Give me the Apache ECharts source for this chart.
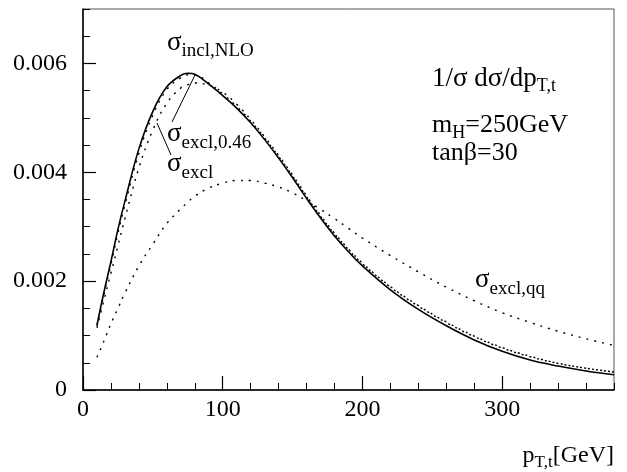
<!DOCTYPE html>
<html>
<head>
<meta charset="utf-8">
<script src="https://cdn.jsdelivr.net/npm/echarts@6/dist/echarts.min.js"></script>
<style>
html,body{margin:0;padding:0;background:#fff;}
#chart{width:627px;height:472px;}
</style>
</head>
<body>
<div id="chart"></div>
<script>
// pT,t values (GeV)
const pt = [10,15,20,25,30,40,50,60,70,75,80,90,100,110,120,130,140,150,160,170,180,190,200,220,240,260,280,300,320,340,360,380];
// sigma_incl,NLO (solid)
const sigInclNLO = [0.00119,0.00180,0.00236,0.00295,0.00347,0.00443,0.00512,0.00557,0.00578,0.00582,0.00580,0.00562,0.00541,0.00518,0.00491,0.00460,0.00426,0.00390,0.00352,0.00316,0.00283,0.00254,0.00228,0.00184,0.00148,0.00118,0.00092,0.00071,0.00055,0.00044,0.00035,0.00028];
// sigma_excl,0.46 (dotted, close to solid)
const sigExcl046 = [0.00118,0.00176,0.00231,0.00288,0.00340,0.00435,0.00505,0.00552,0.00574,0.00579,0.00579,0.00564,0.00544,0.00521,0.00494,0.00463,0.00429,0.00393,0.00355,0.00319,0.00287,0.00258,0.00232,0.00189,0.00154,0.00124,0.00098,0.00077,0.00061,0.00049,0.00040,0.00033];
// sigma_excl (dotted)
const sigExcl = [0.00114,0.00165,0.00215,0.00265,0.00315,0.00408,0.00478,0.00527,0.00555,0.00561,0.00564,0.00560,0.00547,0.00525,0.00497,0.00465,0.00431,0.00395,0.00357,0.00321,0.00288,0.00259,0.00233,0.00190,0.00155,0.00125,0.00099,0.00078,0.00062,0.00049,0.00040,0.00033];
// sigma_excl,qq (dotted, broad)
const sigExclQQ = [0.00060,0.00090,0.00122,0.00150,0.00178,0.00228,0.00268,0.00306,0.00333,0.00345,0.00356,0.00371,0.00380,0.00385,0.00385,0.00380,0.00373,0.00362,0.00348,0.00332,0.00315,0.00297,0.00279,0.00247,0.00217,0.00189,0.00164,0.00142,0.00124,0.00108,0.00094,0.00082];

const xTicks = [0,100,200,300];
const yTicks = [0,0.002,0.004,0.006];

const FONT = '"Liberation Serif", "Times New Roman", serif';
const chart = echarts.init(document.getElementById('chart'));

const ctx = document.createElement('canvas').getContext('2d');
function w(text, size){ ctx.font = size + 'px ' + FONT; return ctx.measureText(text).width; }
// parts: [text, size, dy(baseline shift)]
function label(parts, x, baseline, alignRight){
  let total = 0; parts.forEach(p => total += w(p[0], p[1]));
  let cx = alignRight ? x - total : x;
  const out = [];
  parts.forEach(p => {
    out.push({type:'text', x: cx, y: baseline + (p[2]||0), z: 100,
      style:{text:p[0], font: p[1] + 'px ' + FONT, fill:'#000', align:'left', verticalAlign:'bottom'}});
    cx += w(p[0], p[1]);
  });
  return out;
}
function lab(parts, x, baseline, alignRight){
  return label(parts.map(p => [p[0], p[1], (p[2]||0) + p[1]*0.22]), x, baseline, alignRight);
}

const mk = arr => pt.map((x,i) => [x, arr[i]]);
const dotted = {color:'#000', width:1.4, type:[2,6]};

const graphics = [].concat(
  lab([['σ',27],['incl,NLO',19,6]], 167, 50),
  lab([['σ',27],['excl,0.46',19,7]], 167, 141),
  lab([['σ',27],['excl',19,7]], 167, 171),
  lab([['σ',27],['excl,qq',19,7]], 475, 287),
  lab([['1/σ dσ/dp',27],['T,t',18,5]], 432, 86),
  lab([['m',26],['H',18,6],['=250GeV',26]], 432, 132),
  lab([['tanβ=30',26]], 432, 160),
  lab([['p',24],['T,t',17,5],['[GeV]',24]], 614, 462, true),
  [
    {type:'line', shape:{x1:172,y1:122,x2:195,y2:75}, style:{stroke:'#000', lineWidth:1}, z:100},
    {type:'line', shape:{x1:157,y1:123,x2:171,y2:155}, style:{stroke:'#000', lineWidth:1}, z:100}
  ]
);

const axisCommon = {type:'value', splitLine:{show:false}};
chart.setOption({
  animation:false,
  backgroundColor:'#fff',
  grid:{left:83, right:13, top:9, bottom:82, show:true, borderColor:'#555', borderWidth:1, backgroundColor:'transparent'},
  xAxis:[
    Object.assign({}, axisCommon, {min:0, max:380, interval:100,
      axisLine:{show:true, lineStyle:{color:'#000', width:1.5}},
      axisTick:{show:true, inside:true, length:14, lineStyle:{color:'#000', width:1.2}},
      axisLabel:{show:true, fontFamily:FONT, fontSize:24, color:'#000', margin:8, showMaxLabel:false,
        formatter: v => xTicks.includes(v) ? String(v) : ''}}),
    Object.assign({}, axisCommon, {min:0, max:380, interval:20, position:'bottom',
      axisLine:{show:false}, axisTick:{show:true, inside:true, length:7, lineStyle:{color:'#000', width:1}},
      axisLabel:{show:false}})
  ],
  yAxis:[
    Object.assign({}, axisCommon, {min:0, max:0.007, interval:0.002,
      axisLine:{show:true, lineStyle:{color:'#000', width:1.5}},
      axisTick:{show:true, inside:true, length:13, lineStyle:{color:'#000', width:1.2}},
      axisLabel:{show:true, fontFamily:FONT, fontSize:24, color:'#000', margin:16, showMaxLabel:false,
        formatter: v => { const t = yTicks.find(a => Math.abs(a - v) < 1e-9); return t === undefined ? '' : (t === 0 ? '0' : t.toFixed(3)); }}}),
    Object.assign({}, axisCommon, {min:0, max:0.007, interval:0.0005, position:'left',
      axisLine:{show:false}, axisTick:{show:true, inside:true, length:7, lineStyle:{color:'#000', width:1}},
      axisLabel:{show:false}})
  ],
  series:[
    {type:'line', name:'σ incl,NLO', data:mk(sigInclNLO), smooth:0.4, showSymbol:false, lineStyle:{color:'#000', width:1.6}, z:5},
    {type:'line', name:'σ excl,0.46', data:mk(sigExcl046), smooth:0.4, showSymbol:false, lineStyle:dotted, z:4},
    {type:'line', name:'σ excl', data:mk(sigExcl), smooth:0.4, showSymbol:false, lineStyle:dotted, z:4},
    {type:'line', name:'σ excl,qq', data:mk(sigExclQQ), smooth:0.4, showSymbol:false, lineStyle:dotted, z:4}
  ],
  graphic: graphics
});
</script>
</body>
</html>
